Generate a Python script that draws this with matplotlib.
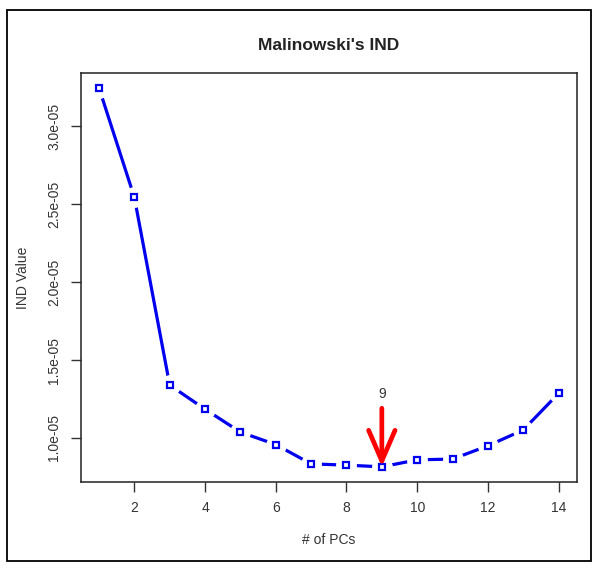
import matplotlib
matplotlib.use("Agg")
import matplotlib.pyplot as plt
from matplotlib.patches import Rectangle

pcs = list(range(1, 15))
ind_values = [3.248e-05, 2.545e-05, 1.339e-05, 1.184e-05, 1.037e-05, 0.957e-05, 0.833e-05,
              0.825e-05, 0.814e-05, 0.859e-05, 0.864e-05, 0.949e-05, 1.051e-05, 1.286e-05]
xticks = [2, 4, 6, 8, 10, 12, 14]
yticks = [1.0e-05, 1.5e-05, 2.0e-05, 2.5e-05, 3.0e-05]
ytick_labels = ["1.0e-05", "1.5e-05", "2.0e-05", "2.5e-05", "3.0e-05"]
best_pc = 9
arrow_top = 1.19e-05
label_y = 1.28e-05

plt.rcParams['font.family'] = ['Liberation Sans', 'DejaVu Sans']

W, H = 602, 572
fig = plt.figure(figsize=(W / 100, H / 100), dpi=100)
ax = fig.add_axes([80.6 / W, 1 - 482 / H, (577 - 80.6) / W, (482 - 72.7) / H])

ax.plot(pcs, ind_values, color='#0000ee', lw=2.3, zorder=2, solid_capstyle='butt')
ax.plot(pcs, ind_values, ls='none', marker='o', ms=14, mfc='white', mec='white', zorder=3)
ax.plot(pcs, ind_values, ls='none', marker='s', ms=5, mfc='white', mec='#0000ee', mew=1.6, zorder=4)

ax.annotate('', xy=(best_pc, ind_values[best_pc - 1]), xytext=(best_pc, arrow_top),
            arrowprops=dict(arrowstyle='->,head_length=2.2,head_width=0.95', color='#ff0000', lw=3.4,
                            shrinkA=0, shrinkB=0), zorder=5)
ax.text(best_pc, label_y, str(best_pc), ha='center', va='center', fontsize=10, color='#333333')

xr = pcs[-1] - pcs[0]
ax.set_xlim(pcs[0] - 0.04 * xr, pcs[-1] + 0.04 * xr)
yr = max(ind_values) - min(ind_values)
ax.set_ylim(min(ind_values) - 0.04 * yr, max(ind_values) + 0.04 * yr)

ax.set_xticks(xticks)
ax.set_xticklabels([str(t) for t in xticks])
ax.set_yticks(yticks)
ax.set_yticklabels(ytick_labels, rotation=90, va='center')
ax.tick_params(axis='both', direction='out', length=7, width=1, labelsize=10,
               labelcolor='#333333', color='#333333', pad=7)
for s in ax.spines.values():
    s.set_linewidth(1.1)
    s.set_color('#222222')

ax.set_title("Malinowski's IND", fontsize=12.5, fontweight='bold', pad=16, color='#222222')
ax.set_xlabel('# of PCs', fontsize=10, color='#333333', labelpad=13)
ax.set_ylabel('IND Value', fontsize=10, color='#333333', labelpad=12)

fig.patches.append(Rectangle((7 / W, 1 - 561 / H), (591 - 7) / W, (561 - 10) / H,
                             transform=fig.transFigure, fill=False, ec='black', lw=1.3))

fig.savefig('out.png', dpi=100)
